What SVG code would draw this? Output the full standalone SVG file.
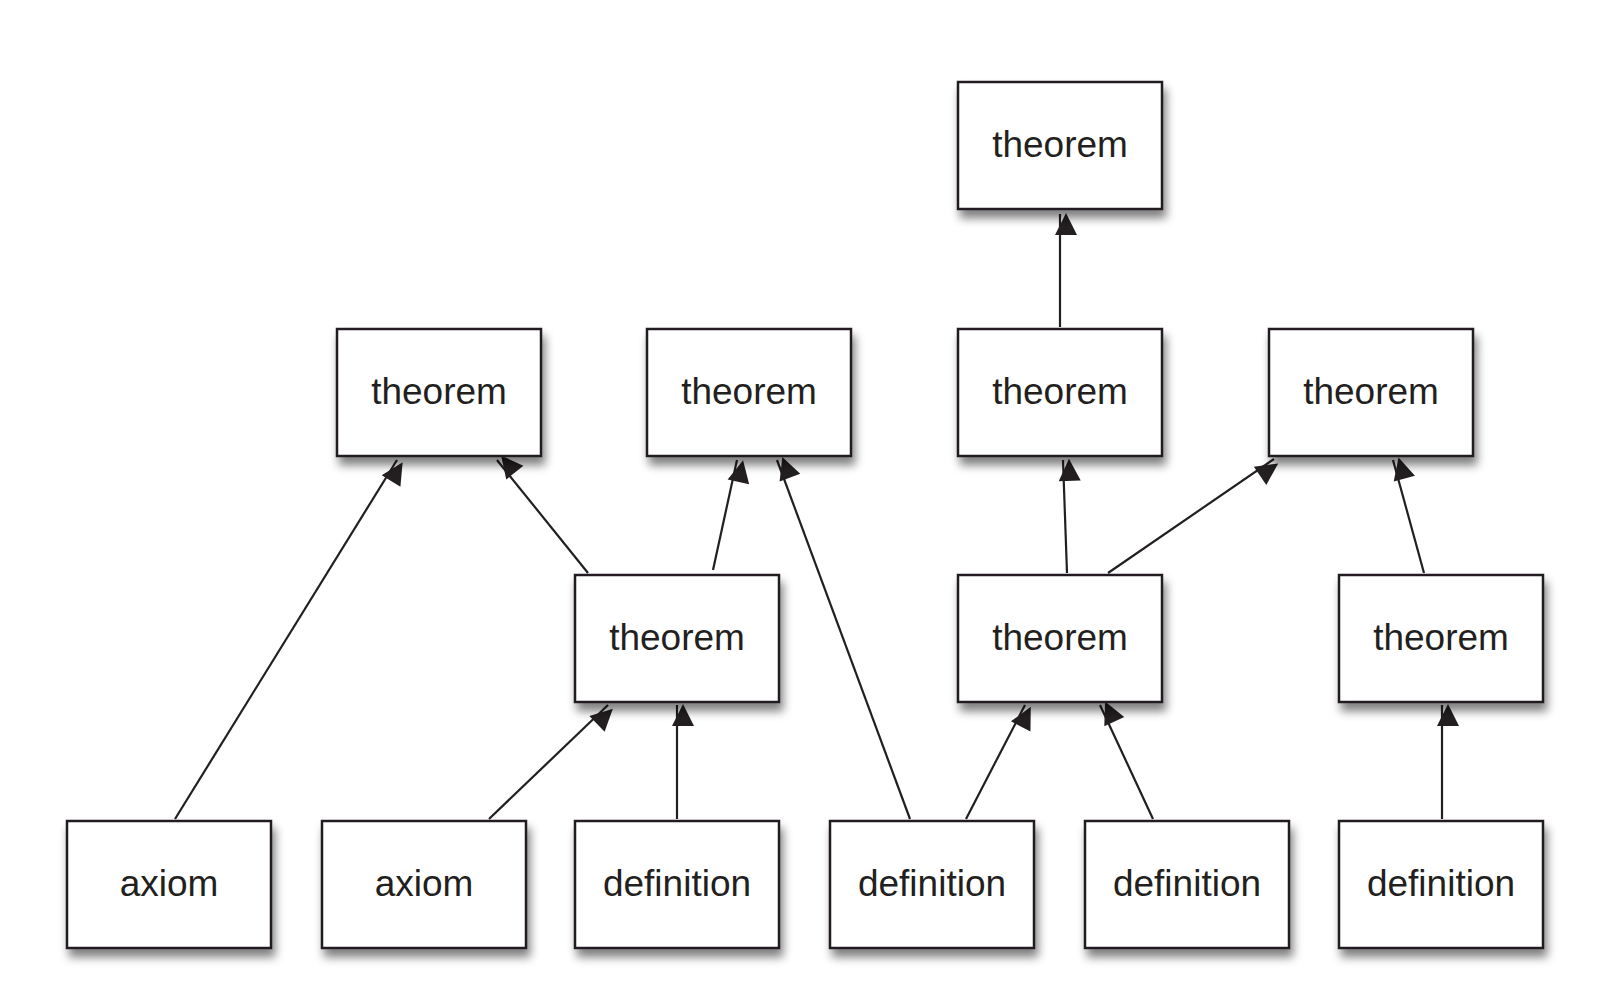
<svg xmlns="http://www.w3.org/2000/svg" width="1610" height="1002" viewBox="0 0 1610 1002">
<style>
.b{fill:#fff;stroke:#231f20;stroke-width:2.5;filter:url(#sh)}
.t{font-family:"Liberation Sans",Arial,sans-serif;font-size:37px;fill:#231f20;text-anchor:middle}
.e{stroke:#231f20;stroke-width:2.2;fill:none;marker-end:url(#ah)}
</style>
<defs>
<filter id="sh" x="-20%" y="-20%" width="150%" height="160%">
<feGaussianBlur in="SourceAlpha" stdDeviation="5"/>
<feOffset dx="3" dy="8" result="o"/>
<feComponentTransfer><feFuncA type="linear" slope="0.5"/></feComponentTransfer>
<feMerge><feMergeNode/><feMergeNode in="SourceGraphic"/></feMerge>
</filter>
<marker id="ah" viewBox="0 0 10 10" refX="10" refY="5" markerWidth="10" markerHeight="10" markerUnits="userSpaceOnUse" orient="auto" overflow="visible">
<path d="M0,0 L10,5 L0,10 z" fill="#231f20" transform="scale(2.2) translate(-5,0)"/>
</marker>
</defs>
<g id="connectors">
<line class="e" x1="175" y1="819" x2="397" y2="460"/>
<line class="e" x1="588" y1="573" x2="497" y2="460"/>
<line class="e" x1="713" y1="570" x2="737" y2="460"/>
<line class="e" x1="910" y1="819" x2="777" y2="460"/>
<line class="e" x1="489" y1="819" x2="608" y2="705"/>
<line class="e" x1="677" y1="819" x2="677" y2="705"/>
<line class="e" x1="966" y1="819" x2="1025" y2="705"/>
<line class="e" x1="1153" y1="819" x2="1100" y2="705"/>
<line class="e" x1="1442" y1="819" x2="1442" y2="705"/>
<line class="e" x1="1067" y1="573" x2="1063" y2="460"/>
<line class="e" x1="1108" y1="573" x2="1274" y2="459"/>
<line class="e" x1="1424" y1="573" x2="1393" y2="460"/>
<line class="e" x1="1060" y1="327" x2="1060" y2="214"/>
</g>
<g id="n1"><rect class="b" x="958" y="82" width="204" height="127"/><text class="t" x="1060" y="157">theorem</text></g>
<g id="n2"><rect class="b" x="337" y="329" width="204" height="127"/><text class="t" x="439" y="404">theorem</text></g>
<g id="n3"><rect class="b" x="647" y="329" width="204" height="127"/><text class="t" x="749" y="404">theorem</text></g>
<g id="n4"><rect class="b" x="958" y="329" width="204" height="127"/><text class="t" x="1060" y="404">theorem</text></g>
<g id="n5"><rect class="b" x="1269" y="329" width="204" height="127"/><text class="t" x="1371" y="404">theorem</text></g>
<g id="n6"><rect class="b" x="575" y="575" width="204" height="127"/><text class="t" x="677" y="650">theorem</text></g>
<g id="n7"><rect class="b" x="958" y="575" width="204" height="127"/><text class="t" x="1060" y="650">theorem</text></g>
<g id="n8"><rect class="b" x="1339" y="575" width="204" height="127"/><text class="t" x="1441" y="650">theorem</text></g>
<g id="n9"><rect class="b" x="67" y="821" width="204" height="127"/><text class="t" x="169" y="896">axiom</text></g>
<g id="n10"><rect class="b" x="322" y="821" width="204" height="127"/><text class="t" x="424" y="896">axiom</text></g>
<g id="n11"><rect class="b" x="575" y="821" width="204" height="127"/><text class="t" x="677" y="896">definition</text></g>
<g id="n12"><rect class="b" x="830" y="821" width="204" height="127"/><text class="t" x="932" y="896">definition</text></g>
<g id="n13"><rect class="b" x="1085" y="821" width="204" height="127"/><text class="t" x="1187" y="896">definition</text></g>
<g id="n14"><rect class="b" x="1339" y="821" width="204" height="127"/><text class="t" x="1441" y="896">definition</text></g>
</svg>
